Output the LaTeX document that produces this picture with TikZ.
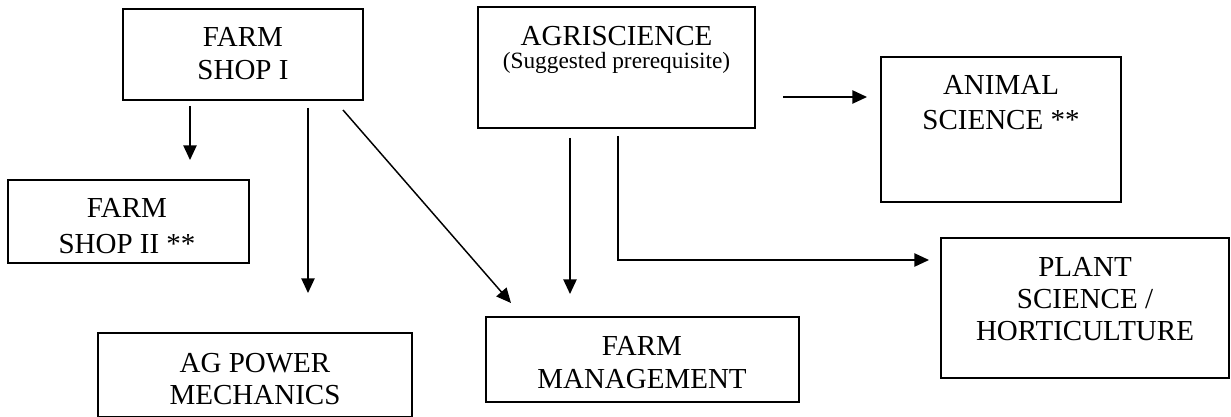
\documentclass[tikz,border=0pt]{standalone}
\usepackage{fontspec}
\setmainfont{Liberation Serif}
\usetikzlibrary{arrows.meta,fit}
\begin{document}
\begin{tikzpicture}[x=0.75pt,y=-0.75pt,
  box/.style={draw=black,line width=1.5pt,inner sep=0pt,fill=none},
  lbl/.style={anchor=base,inner sep=0pt,font=\fontsize{21.75}{25}\selectfont},
  small/.style={anchor=base,inner sep=0pt,font=\fontsize{17.5}{21}\selectfont},
  arr/.style={line width=1.1pt,-{Triangle[length=11pt,width=10pt]}}]
\useasboundingbox (0,0) rectangle (1231,417);
% boxes
\node[box,fit={(123,9) (363,100)}] (fs1) {};
\node[box,fit={(478,7) (755,128)}] (agri) {};
\node[box,fit={(881,57) (1121,202)}] (anim) {};
\node[box,fit={(8,180) (249,263)}] (fs2) {};
\node[box,fit={(98,333) (412,417)}] (agp) {};
\node[box,fit={(486,317) (799,402)}] (fm) {};
\node[box,fit={(941,238) (1229,378)}] (plant) {};
% labels
\node[lbl] (fs1a) at (243,47) {FARM};
\node[lbl] (fs1b) at (243,80) {SHOP I};
\node[lbl] (agria) at (616.5,46) {AGRISCIENCE};
\node[small] (agrib) at (616.5,69) {(Suggested prerequisite)};
\node[lbl] (anima) at (1001,95) {ANIMAL};
\node[lbl] (animb) at (1001,130) {SCIENCE **};
\node[lbl] (fs2a) at (127,218) {FARM};
\node[lbl] (fs2b) at (127,253) {SHOP II **};
\node[lbl] (agpa) at (255,372) {AG POWER};
\node[lbl] (agpb) at (255,404) {MECHANICS};
\node[lbl] (fma) at (642,355) {FARM};
\node[lbl] (fmb) at (642,388) {MANAGEMENT};
\node[lbl] (plta) at (1085,276) {PLANT};
\node[lbl] (pltb) at (1085,308) {SCIENCE /};
\node[lbl] (pltc) at (1085,340) {HORTICULTURE};
% connector ends
\coordinate (a1s) at (190,106);
\coordinate (a1e) at (190,160);
\coordinate (a2s) at (308,108);
\coordinate (a2e) at (308,293);
\coordinate (a3s) at (343,110);
\coordinate (a3e) at (511,303);
\coordinate (a4s) at (783,97);
\coordinate (a4e) at (867,97);
\coordinate (a5s) at (570,138);
\coordinate (a5e) at (570,294);
\coordinate (a6s) at (618,136);
\coordinate (a6e) at (929,260);
% connectors
\draw[arr] (a1s) -- (a1e);
\draw[arr] (a2s) -- (a2e);
\draw[arr] (a3s) -- (a3e);
\draw[arr] (a4s) -- (a4e);
\draw[arr] (a5s) -- (a5e);
\draw[arr] (a6s) |- (a6e);
\end{tikzpicture}
\end{document}
